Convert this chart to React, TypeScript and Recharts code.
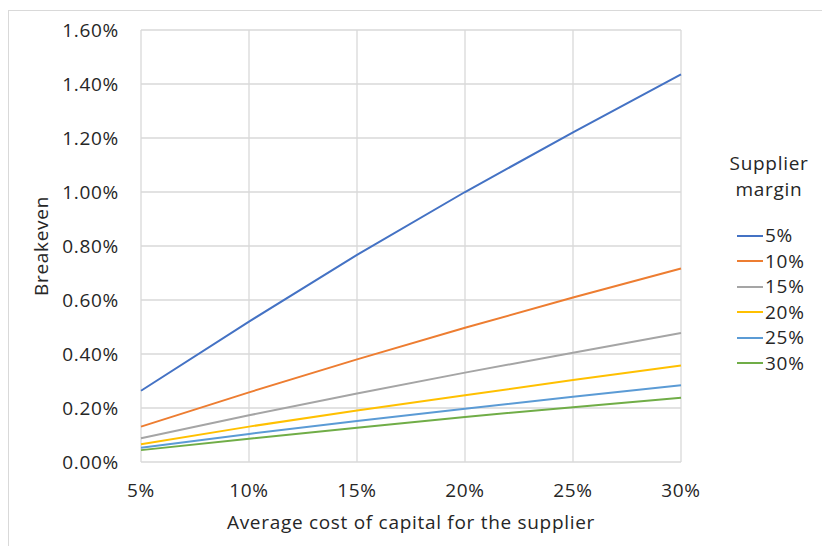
import React from 'react';
import { LineChart, Line, XAxis, YAxis, CartesianGrid } from 'recharts';

// Average cost of capital for the supplier (x axis categories)
const costOfCapital = ['5%', '10%', '15%', '20%', '25%', '30%'];

// Breakeven (in %) for each supplier margin
const margin5 = [0.264, 0.52, 0.767, 1.0, 1.221, 1.436];
const margin10 = [0.131, 0.258, 0.38, 0.497, 0.609, 0.717];
const margin15 = [0.088, 0.173, 0.254, 0.331, 0.405, 0.478];
const margin20 = [0.066, 0.131, 0.191, 0.247, 0.304, 0.357];
const margin25 = [0.053, 0.104, 0.152, 0.197, 0.242, 0.284];
const margin30 = [0.044, 0.086, 0.127, 0.167, 0.203, 0.238];

const yTicks = [0, 0.2, 0.4, 0.6, 0.8, 1.0, 1.2, 1.4, 1.6];

const seriesDefs = [
  { key: 'm5', name: '5%', values: margin5, color: '#4472C4' },
  { key: 'm10', name: '10%', values: margin10, color: '#ED7D31' },
  { key: 'm15', name: '15%', values: margin15, color: '#A5A5A5' },
  { key: 'm20', name: '20%', values: margin20, color: '#FFC000' },
  { key: 'm25', name: '25%', values: margin25, color: '#5B9BD5' },
  { key: 'm30', name: '30%', values: margin30, color: '#70AD47' },
];

const data = costOfCapital.map((c, i) => {
  const row: Record<string, string | number> = { cost: c };
  seriesDefs.forEach((s) => {
    row[s.key] = s.values[i];
  });
  return row;
});

const FONT = '"Open Sans", Lato, sans-serif';
const FS = 19;
const LS = 0.7;
const TEXT = '#262626';
const GRID = '#d9d9d9';
const textStyle = { letterSpacing: LS };

const LegendBox = () => (
  <div
    style={{
      position: 'absolute',
      left: 737,
      top: 150,
      fontFamily: FONT,
      color: TEXT,
      fontSize: FS,
      letterSpacing: LS,
    }}
  >
    <div style={{ textAlign: 'center', width: 90, marginLeft: -13, lineHeight: '26px' }}>
      Supplier
      <br />
      margin
    </div>
    <div style={{ height: 21 }} />
    {seriesDefs.map((s) => (
      <div
        key={s.key}
        style={{ display: 'flex', alignItems: 'center', height: 25.5, lineHeight: '25.5px' }}
      >
        <span
          style={{ display: 'inline-block', width: 26, height: 2, background: s.color, marginRight: 2 }}
        />
        <span>{s.name}</span>
      </div>
    ))}
  </div>
);

export default function App() {
  return (
    <div
      style={{
        position: 'absolute',
        left: 0,
        top: 0,
        width: 822,
        height: 546,
        overflow: 'hidden',
        background: '#ffffff',
      }}
    >
      <div
        style={{
          position: 'absolute',
          left: 8,
          top: 10,
          width: 900,
          height: 700,
          border: `1px solid ${GRID}`,
        }}
      />
      <div style={{ position: 'absolute', left: 0, top: 0 }}>
        <LineChart
          width={822}
          height={546}
          data={data}
          margin={{ top: 30, right: 141, bottom: 24, left: 61 }}
        >
          <CartesianGrid stroke={GRID} strokeWidth={1.3} />
          <XAxis
            dataKey="cost"
            axisLine={false}
            tickLine={false}
            tickSize={0}
            tickMargin={22}
            height={60}
            interval={0}
            tick={{ fill: TEXT, fontSize: FS, fontFamily: FONT, style: textStyle }}
            label={{
              content: () => (
                <text
                  x={411}
                  y={529}
                  textAnchor="middle"
                  fill={TEXT}
                  fontSize={FS}
                  fontFamily={FONT}
                  style={textStyle}
                >
                  Average cost of capital for the supplier
                </text>
              ),
            }}
          />
          <YAxis
            width={80}
            domain={[0, 1.6]}
            ticks={yTicks}
            interval={0}
            axisLine={false}
            tickLine={false}
            tickSize={0}
            tickMargin={22}
            tickFormatter={(v: number) => `${v.toFixed(2)}%`}
            tick={{ fill: TEXT, fontSize: FS, fontFamily: FONT, style: textStyle }}
            label={{
              content: () => (
                <text
                  x={48}
                  y={246}
                  transform="rotate(-90 48 246)"
                  textAnchor="middle"
                  fill={TEXT}
                  fontSize={FS}
                  fontFamily={FONT}
                  style={textStyle}
                >
                  Breakeven
                </text>
              ),
            }}
          />
          {seriesDefs.map((s) => (
            <Line
              key={s.key}
              type="linear"
              dataKey={s.key}
              name={s.name}
              stroke={s.color}
              strokeWidth={2}
              dot={false}
              activeDot={false}
              isAnimationActive={false}
            />
          ))}
        </LineChart>
      </div>
      <LegendBox />
    </div>
  );
}
